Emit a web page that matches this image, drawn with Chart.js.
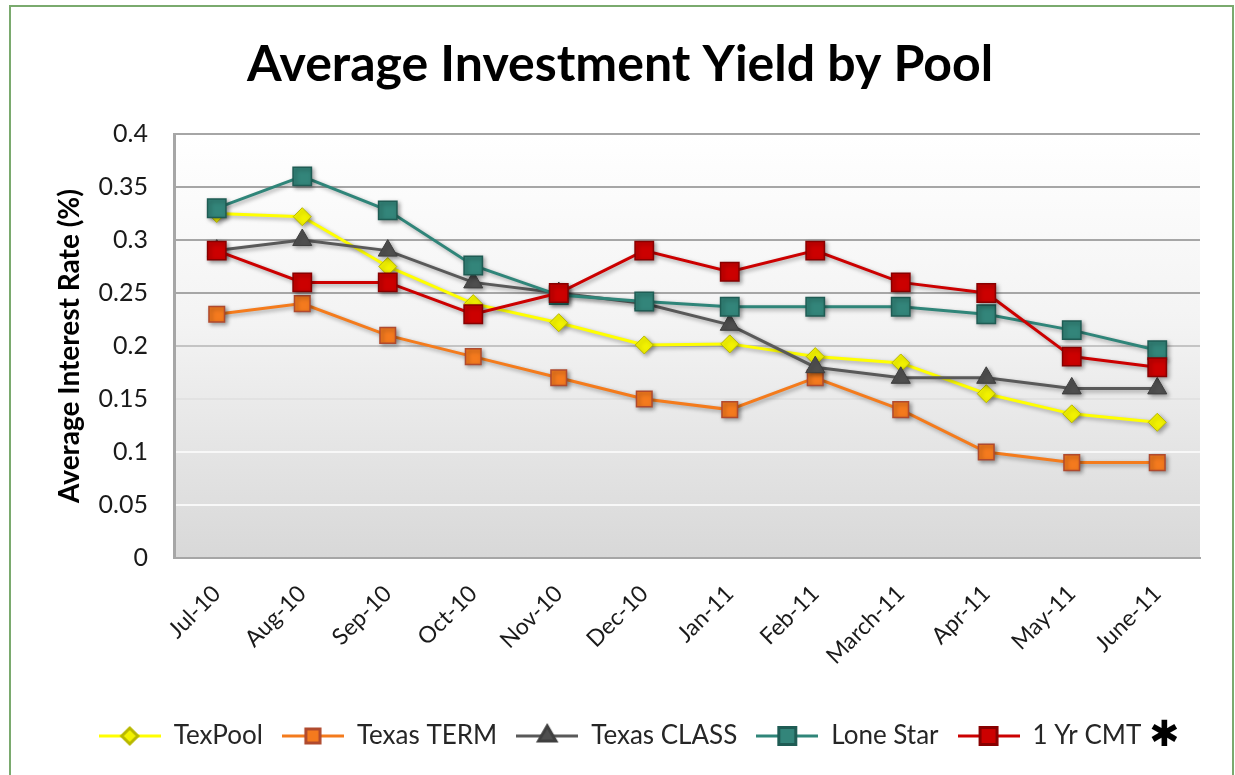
<!DOCTYPE html>
<html>
<head>
<meta charset="utf-8">
<script src="https://cdn.jsdelivr.net/npm/chart.js@4.4.1/dist/chart.umd.min.js"></script>
<style>
  html,body{margin:0;padding:0;background:#fff;}
  #wrap{position:relative;width:1235px;height:775px;overflow:hidden;}
  #frame{position:absolute;left:9px;top:5px;width:1221px;height:800px;border:2px solid #7aaa6e;pointer-events:none;}
</style>
</head>
<body>
<div id="wrap"><canvas id="mychart" width="1235" height="775"></canvas><div id="frame"></div></div>
<script>
// data
const months=['Jul-10','Aug-10','Sep-10','Oct-10','Nov-10','Dec-10','Jan-11','Feb-11','March-11','Apr-11','May-11','June-11'];
const texPool=[0.325,0.322,0.275,0.24,0.222,0.201,0.202,0.19,0.184,0.155,0.136,0.128];
const texasTerm=[0.23,0.24,0.21,0.19,0.17,0.15,0.14,0.17,0.14,0.10,0.09,0.09];
const texasClass=[0.29,0.30,0.29,0.26,0.25,0.24,0.22,0.18,0.17,0.17,0.16,0.16];
const loneStar=[0.33,0.36,0.328,0.276,0.248,0.242,0.237,0.237,0.237,0.23,0.215,0.196];
const cmt=[0.29,0.26,0.26,0.23,0.25,0.29,0.27,0.29,0.26,0.25,0.19,0.18];
const yTickValues=[0,0.05,0.1,0.15,0.2,0.25,0.3,0.35,0.4];
const yTickLabels=['0','0.05','0.1','0.15','0.2','0.25','0.3','0.35','0.4'];

const FONT='Lato';

function legendIcon(ds){
	var c=document.createElement('canvas');
	c.width=62; c.height=26;
	var x=c.getContext('2d');
	x.strokeStyle=ds.borderColor;
	x.lineWidth=3;
	x.beginPath(); x.moveTo(0,13); x.lineTo(62,13); x.stroke();
	x.fillStyle=ds.pointBackgroundColor;
	x.strokeStyle=ds.pointBorderColor;
	Chart.helpers.drawPoint(x,{pointStyle:ds.pointStyle,radius:ds.pointRadius-1,rotation:0,borderWidth:1},31,13);
	return c;
}

const bgPlugin={
	id:'plotbg',
	beforeDraw(chart){
		var a=chart.chartArea, ctx=chart.ctx;
		var g=ctx.createLinearGradient(0,a.top,0,a.bottom);
		g.addColorStop(0,'#ffffff');
		g.addColorStop(0.45,'#f3f3f3');
		g.addColorStop(1,'#d8d8d8');
		ctx.save();
		ctx.fillStyle=g;
		ctx.fillRect(a.left,a.top,a.right-a.left,a.bottom-a.top);
		ctx.restore();
	}
};

const shadowPlugin={
	id:'shadow',
	beforeDatasetsDraw(chart){
		var ctx=chart.ctx;
		ctx.save();
		ctx.shadowColor='rgba(0,0,0,0.35)';
		ctx.shadowBlur=4;
		ctx.shadowOffsetX=2;
		ctx.shadowOffsetY=2;
	},
	afterDatasetsDraw(chart){ chart.ctx.restore(); }
};

const starPlugin={
	id:'star',
	afterDraw(chart){
		var boxes=chart.legend.legendHitBoxes;
		if(!boxes||!boxes.length) return;
		var b=boxes[boxes.length-1];
		var ctx=chart.ctx;
		ctx.save();
		ctx.fillStyle='#000';
		ctx.font='bold 36px "DejaVu Sans"';
		ctx.textBaseline='middle';
		ctx.fillText('\u2731',b.left+b.width+8,b.top+b.height/2+1);
		ctx.restore();
	}
};

function gridColor(ctx){
	var v=ctx.tick.value;
	if(v===0) return '#a6a6a6';
	if(v>=0.25) return '#a6a6a6';
	if(v>=0.2) return '#c4c4c4';
	if(v>=0.15) return '#e2e2e2';
	return '#f8f8f8';
}

var ctx=document.getElementById('mychart').getContext('2d');
var myChart=new Chart(ctx,{
	type:'line',
	data:{
		labels:months,
		datasets:[{
			label:'TexPool',
			data:texPool,
			borderColor:'#ffff00',
			backgroundColor:'#ffff00',
			borderWidth:3,
			pointStyle:'rectRot',
			pointRadius:9,
			pointBackgroundColor:'#f2f200',
			pointBorderColor:'#b8b800',
			pointBorderWidth:1,
			tension:0,
			order:5
		},{
			label:'Texas TERM',
			data:texasTerm,
			borderColor:'#f47b1c',
			backgroundColor:'#f47b1c',
			borderWidth:3,
			pointStyle:'rect',
			pointRadius:11,
			pointBackgroundColor:'#f47a1e',
			pointBorderColor:'#b04a2e',
			pointBorderWidth:1.5,
			tension:0,
			order:4
		},{
			label:'Texas CLASS',
			data:texasClass,
			borderColor:'#595959',
			backgroundColor:'#595959',
			borderWidth:3,
			pointStyle:'triangle',
			pointRadius:11,
			pointBackgroundColor:'#4f4f4f',
			pointBorderColor:'#3f3f3f',
			pointBorderWidth:1,
			tension:0,
			order:3
		},{
			label:'Lone Star',
			data:loneStar,
			borderColor:'#2f8579',
			backgroundColor:'#2f8579',
			borderWidth:3,
			pointStyle:'rect',
			pointRadius:13,
			pointBackgroundColor:'#33857a',
			pointBorderColor:'#1f5c54',
			pointBorderWidth:1.5,
			tension:0,
			order:2
		},{
			label:'1 Yr CMT',
			data:cmt,
			borderColor:'#cc0000',
			backgroundColor:'#cc0000',
			borderWidth:3,
			pointStyle:'rect',
			pointRadius:13,
			pointBackgroundColor:'#cc0000',
			pointBorderColor:'#880000',
			pointBorderWidth:1.5,
			tension:0,
			order:1
		}]
	},
	options:{
		responsive:false,
		animation:false,
		devicePixelRatio:1,
		layout:{padding:{left:40,right:35,top:10,bottom:16}},
		plugins:{
			title:{
				display:true,
				text:'Average Investment Yield by Pool',
				color:'#000',
				font:{family:FONT,size:50,weight:'bold'},
				padding:{top:25,bottom:39}
			},
			legend:{
				position:'bottom',
				labels:{
					usePointStyle:true,
					pointStyleWidth:62,
					padding:19,
					color:'#262626',
					font:{family:FONT,size:26},
					generateLabels:function(chart){
						return chart.data.datasets.map(function(ds,i){
							return {text:ds.label,pointStyle:legendIcon(ds),fillStyle:ds.backgroundColor,
								strokeStyle:ds.borderColor,lineWidth:0,hidden:false,datasetIndex:i,fontColor:'#262626'};
						});
					}
				}
			},
			tooltip:{enabled:false}
		},
		scales:{
			x:{
				offset:true,
				grid:{display:false,drawTicks:false},
				border:{display:true,color:'#a6a6a6',width:2},
				ticks:{
					color:'#1a1a1a',
					font:{family:FONT,size:23},
					minRotation:45,maxRotation:45,
					padding:22,
					autoSkip:false
				},
				afterFit:function(s){ s.height=146; }
			},
			y:{
				min:0,max:0.4,
				afterBuildTicks:function(s){ s.ticks=yTickValues.map(function(v){return {value:v};}); },
				grid:{color:gridColor,lineWidth:2,drawTicks:false},
				border:{display:true,color:'#a6a6a6',width:3},
				ticks:{
					color:'#1a1a1a',
					font:{family:FONT,size:25},
					padding:26,
					callback:function(v,i){ return yTickLabels[i]; }
				},
				title:{
					display:true,
					text:'Average Interest Rate (%)',
					color:'#000',
					font:{family:FONT,size:28,weight:'bold'},
					padding:{top:13,bottom:0}
				},
				afterFit:function(s){ s.width=134; }
			}
		}
	},
	plugins:[bgPlugin,shadowPlugin,starPlugin]
});
</script>
</body>
</html>
